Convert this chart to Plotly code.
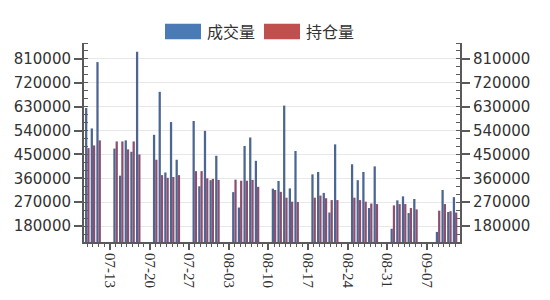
import plotly.graph_objects as go

dates = [
    "2015-07-08", "2015-07-09", "2015-07-10",
    "2015-07-13", "2015-07-14", "2015-07-15", "2015-07-16", "2015-07-17",
    "2015-07-20", "2015-07-21", "2015-07-22", "2015-07-23", "2015-07-24",
    "2015-07-27", "2015-07-28", "2015-07-29", "2015-07-30", "2015-07-31",
    "2015-08-03", "2015-08-04", "2015-08-05", "2015-08-06", "2015-08-07",
    "2015-08-10", "2015-08-11", "2015-08-12", "2015-08-13", "2015-08-14",
    "2015-08-17", "2015-08-18", "2015-08-19", "2015-08-20", "2015-08-21",
    "2015-08-24", "2015-08-25", "2015-08-26", "2015-08-27", "2015-08-28",
    "2015-08-31", "2015-09-01", "2015-09-02", "2015-09-03", "2015-09-04",
    "2015-09-08", "2015-09-09", "2015-09-10", "2015-09-11",
]
volume = [
    625000, 548000, 798000,
    472000, 370000, 503000, 460000, 837000,
    524000, 686000, 382000, 572000, 430000,
    576000, 330000, 539000, 353000, 445000,
    308000, 250000, 482000, 514000, 426000,
    321000, 350000, 634000, 322000, 463000,
    375000, 384000, 305000, 231000, 488000,
    413000, 353000, 384000, 248000, 405000,
    170000, 277000, 292000, 229000, 282000,
    158000, 316000, 233000, 289000,
]
open_interest = [
    474000, 484000, 503000,
    499000, 499000, 469000, 499000, 450000,
    430000, 372000, 362000, 365000, 372000,
    387000, 387000, 360000, 358000, 354000,
    355000, 351000, 351000, 354000, 328000,
    316000, 309000, 287000, 272000, 271000,
    287000, 295000, 285000, 278000, 278000,
    287000, 278000, 272000, 265000, 263000,
    258000, 263000, 263000, 248000, 243000,
    238000, 263000, 236000, 231000,
]
series_names = ["成交量", "持仓量"]
tick_dates = ["2015-07-13", "2015-07-20", "2015-07-27", "2015-08-03", "2015-08-10",
              "2015-08-17", "2015-08-24", "2015-08-31", "2015-09-07"]
tick_labels = ["07-13", "07-20", "07-27", "08-03", "08-10", "08-17", "08-24", "08-31", "09-07"]
y_ticks = [180000, 270000, 360000, 450000, 540000, 630000, 720000, 810000]
y_tick_labels = [str(v) for v in y_ticks]

bar_blue = "#4b6690"
bar_red = "#8c4f70"
leg_blue = "#4a7bb7"
leg_red = "#c0504d"

fig = go.Figure()
fig.add_trace(go.Bar(x=dates, y=volume, name=series_names[0], marker_color=bar_blue,
                     marker_line_width=0, xperiod=86400000, xperiodalignment="end",
                     alignmentgroup="g", offsetgroup="1", yaxis="y",
                     showlegend=False))
fig.add_trace(go.Bar(x=dates, y=open_interest, name=series_names[1], marker_color=bar_red,
                     marker_line_width=0, xperiod=86400000, xperiodalignment="end",
                     alignmentgroup="g", offsetgroup="2", yaxis="y2",
                     showlegend=False))

axis_col = "#5a5a5a"
yrange = [120000, 870000]
yfont = dict(family="DejaVu Sans", size=15, color="#333333")

fig.update_layout(
    width=550, height=300,
    margin=dict(l=84, r=90, t=43, b=51),
    paper_bgcolor="white", plot_bgcolor="white",
    barmode="group", bargap=0.2, bargroupgap=0.0,
    xaxis=dict(
        type="date",
        range=["2015-07-08 10:00", "2015-09-12 21:00"],
        tickvals=tick_dates, ticktext=tick_labels,
        tickangle=90,
        ticks="outside", ticklen=6, tickwidth=2, tickcolor=axis_col,
        showline=True, linecolor=axis_col, linewidth=2,
        showgrid=False, zeroline=False,
        tickfont=dict(family="Liberation Serif", size=15, color="#333333"),
        minor=dict(dtick=86400000, tick0="2015-07-13", ticks="outside", ticklen=3,
                   tickwidth=1, tickcolor=axis_col, showgrid=False),
    ),
    yaxis=dict(
        range=yrange, tickvals=y_ticks, ticktext=y_tick_labels,
        ticks="outside", ticklen=8, tickwidth=1.5, tickcolor=axis_col,
        showline=True, linecolor=axis_col, linewidth=2,
        showgrid=True, gridcolor="#e8e8e8", gridwidth=1,
        zeroline=False, tickfont=yfont,
        minor=dict(dtick=30000, tick0=120000, ticks="inside", ticklen=4,
                   tickwidth=1, tickcolor=axis_col, showgrid=False),
    ),
    yaxis2=dict(
        range=yrange, tickvals=y_ticks, ticktext=y_tick_labels,
        overlaying="y", side="right",
        ticks="outside", ticklen=8, tickwidth=1.5, tickcolor=axis_col,
        showline=True, linecolor=axis_col, linewidth=2,
        showgrid=False, zeroline=False, tickfont=yfont,
        minor=dict(dtick=30000, tick0=120000, ticks="inside", ticklen=4,
                   tickwidth=1, tickcolor=axis_col, showgrid=False),
    ),
)

# legend drawn manually (swatch + text) at top center
px0, pw, py0, ph = 84, 376, 43, 206
def fx(px):
    return (px - px0) / pw
def fy(py):
    return (py0 + ph - py) / ph

for (x0, x1, col, tx, label) in [(165, 201, leg_blue, 205, series_names[0]),
                                  (264, 300, leg_red, 304, series_names[1])]:
    fig.add_shape(type="rect", xref="paper", yref="paper",
                  x0=fx(x0), x1=fx(x1), y0=fy(39), y1=fy(23),
                  fillcolor=col, line_width=0)
    fig.add_annotation(xref="paper", yref="paper", x=fx(tx), y=fy(31),
                       xanchor="left", yanchor="middle", showarrow=False,
                       text=label, font=dict(family="Noto Sans CJK SC", size=16, color="#333333"))

fig.write_html("out.html")
